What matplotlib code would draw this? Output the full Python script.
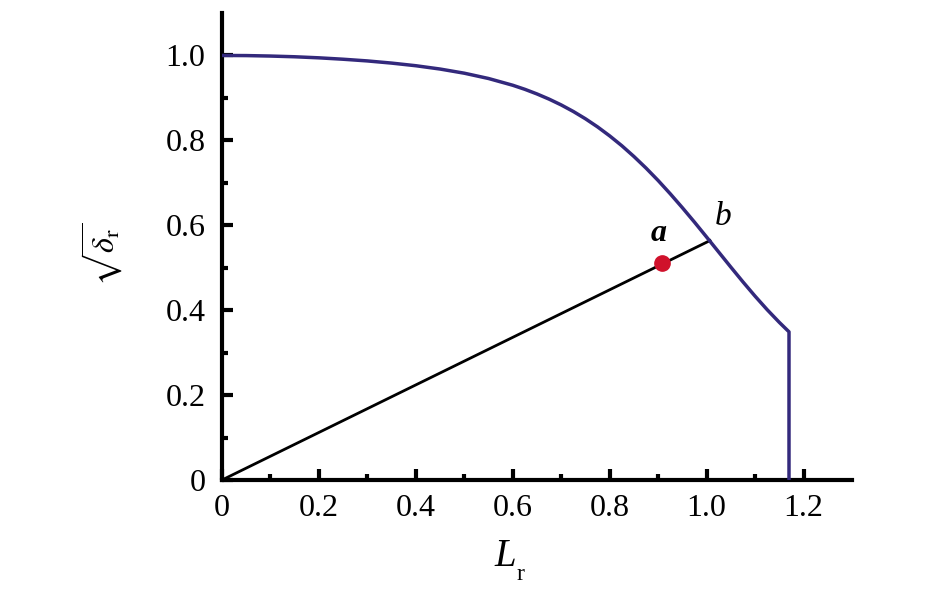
import matplotlib
matplotlib.use("Agg")
import matplotlib.pyplot as plt

# Failure assessment curve
curve_L = [0.0, 0.05, 0.1, 0.15, 0.2, 0.25, 0.3, 0.35, 0.4, 0.45, 0.5, 0.55, 0.6, 0.625,
           0.65, 0.675, 0.7, 0.725, 0.75, 0.775, 0.8, 0.825, 0.85, 0.875, 0.9,
           0.925, 0.95, 0.975, 1.0, 1.025, 1.05, 1.075, 1.1, 1.125, 1.15, 1.17]
curve_d = [1.0, 0.9997, 0.9986, 0.9969, 0.9944, 0.9911, 0.9871, 0.9820, 0.9758, 0.9680,
           0.9582, 0.9457, 0.9298, 0.9202, 0.9093, 0.8971, 0.8834, 0.8680, 0.8508,
           0.8317, 0.8105, 0.7874, 0.7620, 0.7347, 0.7054, 0.6741, 0.6413, 0.6073,
           0.5722, 0.5368, 0.5014, 0.4666, 0.4330, 0.4011, 0.3713, 0.349]
cutoff_L = 1.17
load_L = [0.0, 1.007]
load_d = [0.0, 0.564]
point_a = (0.908, 0.511)
point_b = (1.007, 0.564)

plt.rcParams['mathtext.fontset'] = 'stix'
plt.rcParams['font.family'] = ['Liberation Serif', 'DejaVu Serif']

W, H = 945, 591
fig = plt.figure(figsize=(9.45, 5.91), dpi=100)
ax = fig.add_axes([222 / W, 1 - 480 / H, (852 - 222) / W, (480 - 13) / H])

navy = '#33297c'
ax.plot(curve_L + [cutoff_L], curve_d + [0.0], color=navy, lw=2.5,
        solid_joinstyle='round', zorder=3)
ax.plot(load_L, load_d, color='black', lw=2.0, zorder=2)
ax.plot([point_a[0]], [point_a[1]], 'o', color='#d0112b', ms=11, zorder=4)
ax.text(point_a[0] - 0.006, point_a[1] + 0.035, 'a', fontsize=23, style='italic',
        fontweight='bold', ha='center', va='bottom', family='Liberation Serif')
ax.text(point_b[0] + 0.027, point_b[1] + 0.02, 'b', fontsize=24, style='italic',
        ha='center', va='bottom', family='Liberation Serif')

ax.set_xlim(0, 1.3)
ax.set_ylim(0, 1.1)
for s in ['top', 'right']:
    ax.spines[s].set_visible(False)
for s in ['left', 'bottom']:
    ax.spines[s].set_linewidth(3)

xt = [0, 0.2, 0.4, 0.6, 0.8, 1.0, 1.2]
xl = ['0', '0.2', '0.4', '0.6', '0.8', '1.0', '1.2']
yt = [0, 0.2, 0.4, 0.6, 0.8, 1.0]
yl = ['0', '0.2', '0.4', '0.6', '0.8', '1.0']
ax.set_xticks(xt)
ax.set_xticklabels(xl, family='Liberation Serif')
ax.set_yticks(yt)
ax.set_yticklabels(yl, family='Liberation Serif')
ax.set_xticks([0.1, 0.3, 0.5, 0.7, 0.9, 1.1], minor=True)
ax.set_yticks([0.1, 0.3, 0.5, 0.7, 0.9], minor=True)
ax.tick_params(which='major', direction='in', length=8, width=3, labelsize=23)
ax.tick_params(which='minor', direction='in', length=4, width=3)
ax.tick_params(axis='y', which='major', pad=12)
ax.tick_params(axis='x', which='major', pad=10)

# axis titles
fig.text(505 / W, 1 - 556 / H, 'L', fontsize=28, style='italic', ha='center', va='center',
         family='Liberation Serif')
fig.text(517 / W, 1 - 574 / H, 'r', fontsize=17, ha='left', va='center',
         family='Liberation Serif')
fig.text(102 / W, 1 - 254 / H, r'$\sqrt{\delta_{\mathrm{r}}}$', fontsize=23, rotation=90,
         ha='center', va='center')

fig.savefig('out.png', dpi=100)
